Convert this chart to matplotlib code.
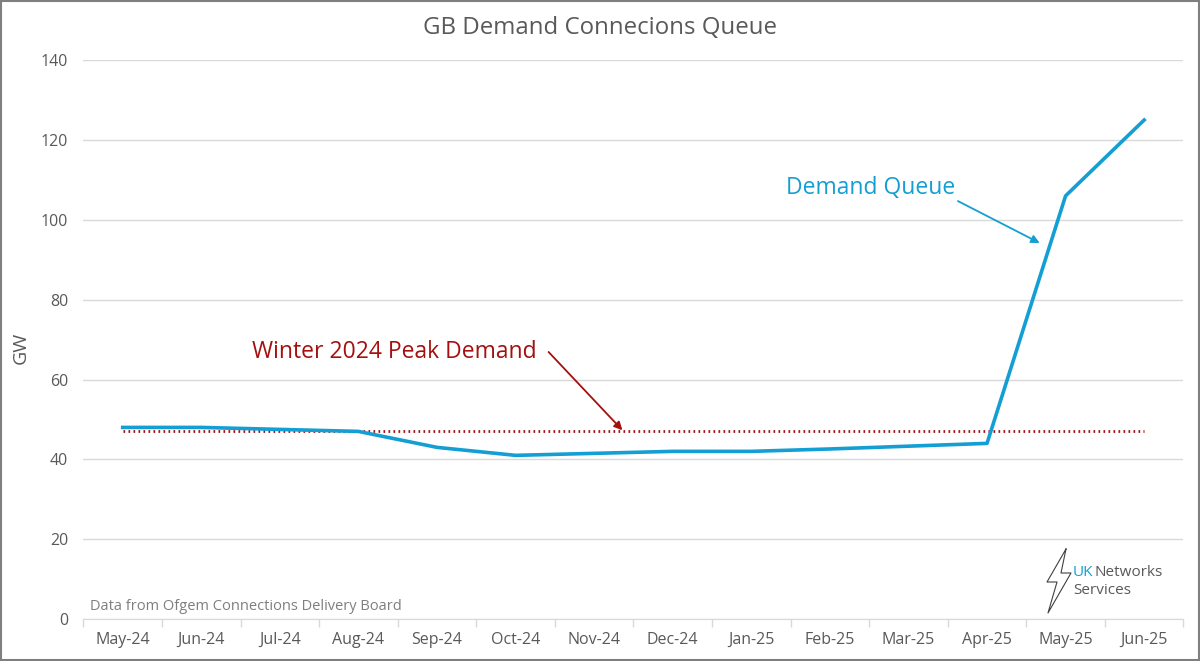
import numpy as np
import matplotlib.pyplot as plt
from matplotlib.lines import Line2D
from matplotlib.patches import Rectangle

plt.rcParams['font.family'] = ['Open Sans', 'DejaVu Sans']

# data
months = ['May-24', 'Jun-24', 'Jul-24', 'Aug-24', 'Sep-24', 'Oct-24', 'Nov-24',
          'Dec-24', 'Jan-25', 'Feb-25', 'Mar-25', 'Apr-25', 'May-25', 'Jun-25']
demand_queue = [48, 48, 47.5, 47, 43, 41, 41.5, 42, 42, 42.6, 43.3, 44, 106, 125]
peak_demand = 47  # winter 2024 peak, GW

blue = '#139fd3'
red = '#a50f0f'
grey = '#595959'

fig = plt.figure(figsize=(12, 6.61), dpi=100)
ax = fig.add_axes([0.0695, 0.0635, 0.9167, 0.8455])

x = np.arange(len(months))
ax.plot(x, demand_queue, color=blue, lw=2.6, solid_joinstyle='round', zorder=3)
ax.plot(x, [peak_demand]*len(x), color=red, lw=2, ls=(0, (0.6, 1.2)), zorder=2)

ax.set_xlim(-0.5, len(months)-0.5)
ax.set_ylim(0, 140)
ax.set_yticks(range(0, 141, 20))
ax.set_xticks(x)
ax.set_xticklabels(months)
ax.set_xticks(np.arange(-0.5, len(months), 1), minor=True)
ax.tick_params(axis='x', which='major', length=0, pad=9, labelsize=11.5, labelcolor=grey)
ax.tick_params(axis='x', which='minor', length=6, color='#d9d9d9', width=1)
ax.tick_params(axis='y', length=0, pad=11, labelsize=11.5, labelcolor=grey)
ax.grid(axis='y', color='#d9d9d9', lw=1)
ax.set_axisbelow(True)
for s in ['top', 'right', 'left']:
    ax.spines[s].set_visible(False)
ax.spines['bottom'].set_color('#d9d9d9')
ax.set_ylabel('GW', fontsize=14, color=grey)
ax.yaxis.set_label_coords(-0.049, 0.485)

fig.text(0.5, 0.958, 'GB Demand Connecions Queue', ha='center', va='center',
         fontsize=17.3, color=grey)

# annotations
ax.text(10.60, 107.9, 'Demand Queue', fontsize=16.5, color=blue, ha='right', va='center')
ax.annotate('', xy=(11.67, 94.2), xytext=(10.63, 104.7),
            arrowprops=dict(arrowstyle='-|>', color=blue, lw=1.3,
                            mutation_scale=12, shrinkA=0, shrinkB=0))
ax.text(5.27, 66.9, 'Winter 2024 Peak Demand', fontsize=16.5, color=red,
        ha='right', va='center')
ax.annotate('', xy=(6.36, 47.3), xytext=(5.42, 66.9),
            arrowprops=dict(arrowstyle='-|>', color=red, lw=1.3,
                            mutation_scale=12, shrinkA=0, shrinkB=0))

ax.text(-0.416, 3.2, 'Data from Ofgem Connections Delivery Board', fontsize=10.5,
        color='#7f7f7f', ha='left', va='center')

# logo
bolt_x = [1066, 1047, 1057, 1048, 1071, 1061, 1066]
bolt_y = [549, 582, 582, 613, 573, 573, 549]
fig.add_artist(Line2D([v/1200 for v in bolt_x], [1-v/661 for v in bolt_y],
                      transform=fig.transFigure, color='#404040', lw=0.8))
fig.text(1073/1200, 1-573/661, 'UK', color=blue, fontsize=11, ha='left', va='center')
fig.text(1094/1200, 1-573/661, 'Networks', color=grey, fontsize=11, ha='left', va='center')
fig.text(1073/1200, 1-590/661, 'Services', color=grey, fontsize=11, ha='left', va='center')

# border
fig.add_artist(Rectangle((0.001, 0.0015), 0.998, 0.997, transform=fig.transFigure,
                         fill=False, edgecolor='#7f7f7f', lw=1.5))

fig.savefig('out.png', dpi=100)
